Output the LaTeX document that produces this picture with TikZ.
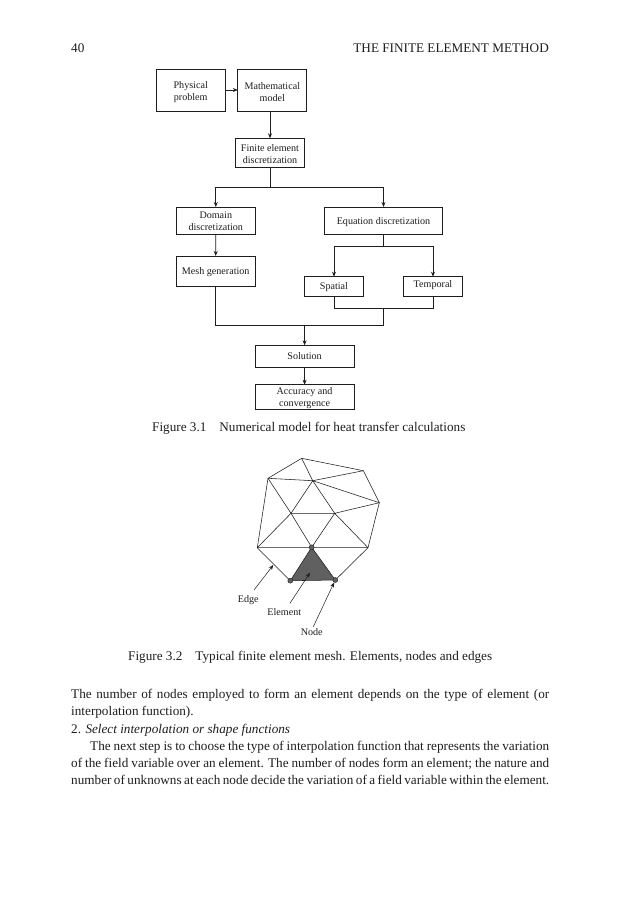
\documentclass[tikz,border=0pt]{standalone}
\usepackage{fontspec}
\setmainfont{Liberation Serif}
\usetikzlibrary{arrows.meta}
\definecolor{ink}{HTML}{1E1E1E}
\tikzset{
  x=1pt,y=-1pt,
  every node/.style={text=ink},
  flowbox/.style={draw=ink,line width=0.8pt,inner sep=0pt,outer sep=0pt,align=center,font=\fontsize{10.1}{12}\selectfont},
  link/.style={draw=ink,line width=0.7pt},
  arr/.style={link,-{Stealth[length=5pt,width=4pt]}},
  meshline/.style={draw=ink,line width=0.55pt},
  marker/.style={circle,draw=ink,fill=gray!75!black,line width=0.4pt,minimum size=5pt,inner sep=0pt},
  small/.style={inner sep=0pt,font=\fontsize{10.1}{12}\selectfont},
  pagetext/.style={inner sep=0pt,anchor=base west,font=\fontsize{13.2}{15}\selectfont},
  captext/.style={inner sep=0pt,anchor=base west,font=\fontsize{13.2}{15}\selectfont},
}
\newcommand{\fullline}[1]{\makebox[478pt][s]{#1}}
\newcommand{\lowA}{\rule{0pt}{9pt}}
\newcommand{\lowB}{\rule{0pt}{11pt}}
\begin{document}
\begin{tikzpicture}
\useasboundingbox[fill=white] (0,0) rectangle (619,900);
% header
\node[pagetext] (pg) at (71,52) {40};
\node[pagetext,anchor=base east] (hd) at (549,52) {THE FINITE ELEMENT METHOD};
% flow chart
\node[flowbox,minimum width=69pt,minimum height=42pt] (phys) at (190.7,90) {\lowB Physical\\problem};
\node[flowbox,minimum width=69pt,minimum height=42pt] (math) at (272.3,90) {\lowB Mathematical\\model};
\node[flowbox,minimum width=69.4pt,minimum height=29.4pt] (fe) at (270,153) {\lowA Finite element\\discretization};
\node[flowbox,minimum width=79.7pt,minimum height=27pt] (dom) at (215.8,220.5) {\lowA Domain\\discretization};
\node[flowbox,minimum width=118.4pt,minimum height=27pt] (eq) at (383.5,220.5) {\lowB Equation discretization};
\node[flowbox,minimum width=79.4pt,minimum height=30.7pt] (mesh) at (215.7,271.3) {\lowA Mesh generation};
\node[flowbox,minimum width=59.4pt,minimum height=20pt] (spat) at (334,286.7) {Spatial};
\node[flowbox,minimum width=59.4pt,minimum height=20pt] (temp) at (433,286.7) {\rule[-5pt]{0pt}{0pt}Temporal};
\node[flowbox,minimum width=98.7pt,minimum height=22pt] (sol) at (304.6,356.3) {Solution};
\node[flowbox,minimum width=98.7pt,minimum height=24.6pt] (acc) at (304.6,397) {\lowA Accuracy and\\convergence};
\coordinate (j1) at (270,187);
\coordinate (j2) at (383.5,246.3);
\coordinate (j3) at (383.5,308.3);
\coordinate (j4) at (383.5,325.3);
\coordinate (j5) at (304.6,325.3);
\draw[arr] (phys.east) -- (math.west);
\draw[arr] (fe.north |- math.south) -- (fe.north);
\draw[link] (fe.south) -- (j1);
\draw[arr] (j1) -| (dom.north);
\draw[arr] (j1) -| (eq.north);
\draw[arr] (dom.south) -- (mesh.north);
\draw[link] (eq.south) -- (j2);
\draw[arr] (j2) -| (spat.north);
\draw[arr] (j2) -| (temp.north);
\draw[link] (spat.south) |- (j3);
\draw[link] (temp.south) |- (j3);
\draw[link] (j3) -- (j4);
\draw[link] (mesh.south) |- (j5);
\draw[link] (j4) -- (j5);
\draw[arr] (j5) -- (sol.north);
\draw[arr] (sol.south) -- (acc.north);
\node[captext] (c1) at (152,431) {Figure 3.1\hspace{13pt}Numerical model for heat transfer calculations};
% mesh
\coordinate (A) at (301.7,458.3);
\coordinate (B) at (363.3,470.7);
\coordinate (C) at (379.3,502.7);
\coordinate (D) at (368,547.7);
\coordinate (E) at (335.3,580);
\coordinate (F) at (290.3,580.7);
\coordinate (G) at (257.3,547.7);
\coordinate (H) at (268,478.3);
\coordinate (I) at (312.7,480.7);
\coordinate (J) at (291,513.3);
\coordinate (K) at (334.7,513.3);
\coordinate (L) at (311.7,547.3);
\fill[gray!75!black] (L) -- (E) -- (F) -- cycle;
\draw[meshline] (A) -- (B) -- (C) -- (D) -- (E) -- (F) -- (G) -- (H) -- cycle;
\draw[meshline] (A) -- (I) (H) -- (I) (I) -- (B) (I) -- (C) (I) -- (J) (I) -- (K);
\draw[meshline] (H) -- (J) (J) -- (K) (K) -- (C) (J) -- (G) (J) -- (L) (K) -- (L) (K) -- (D);
\draw[meshline] (G) -- (D) (L) -- (F) (L) -- (E);
\node[marker] (nL) at (L) {};
\node[marker] (nE) at (E) {};
\node[marker] (nF) at (F) {};
\node[small] (edge) at (248.3,599.7) {Edge};
\node[small] (elem) at (284.3,611.7) {Element};
\node[small] (nod) at (311.7,631.7) {Node};
\coordinate (tEdge) at (273.3,565);
\coordinate (tElem) at (310,572.7);
\coordinate (sEdge) at (254,590);
\coordinate (sElem) at (290,603.3);
\coordinate (sNode) at (313.3,626.7);
\draw[arr,line width=0.5pt] (sEdge) -- (tEdge);
\draw[arr,line width=0.5pt] (sElem) -- (tElem);
\draw[arr,line width=0.5pt] (sNode) -- (nE);
\node[captext] (c2) at (128,660) {Figure 3.2\hspace{13pt}Typical finite element mesh. Elements, nodes and edges};
% body text
\node[pagetext] (t1) at (71,698) {\fullline{The number of nodes employed to form an element depends on the type of element (or}};
\node[pagetext] (t2) at (71,715) {interpolation function).};
\node[pagetext] (t3) at (71,733) {2. \textit{Select interpolation or shape functions}};
\node[pagetext] (t4) at (90,750) {\makebox[459pt][s]{The next step is to choose the type of interpolation function that represents the variation}};
\node[pagetext] (t5) at (71,767) {\fullline{of the field variable over an element. The number of nodes form an element; the nature and}};
\node[pagetext] (t6) at (71,784) {\fullline{number of unknowns at each node decide the variation of a field variable within the element.}};
\end{tikzpicture}
\end{document}
